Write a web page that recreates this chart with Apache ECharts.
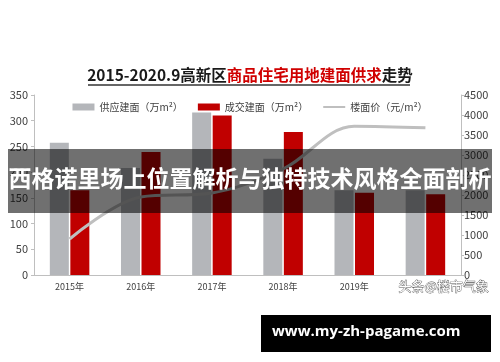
<!DOCTYPE html>
<html>
<head>
<meta charset="utf-8">
<script src="https://cdn.jsdelivr.net/npm/echarts@6/dist/echarts.min.js"></script>
<style>html,body{margin:0;padding:0;background:#fff}#c{width:500px;height:362px}</style>
</head>
<body>
<div id="c"></div>
<script>
var categories = ['2015年', '2016年', '2017年', '2018年', '2019年', '2020年'];
var supplyArea = [257, 208, 316, 226, 165, 165];
var dealArea = [165, 239, 310, 278, 160, 157];
var floorPrice = [900, 1950, 2050, 2650, 3720, 3680];
var leftTicks = [0, 350, 50];
var rightTicks = [0, 4500, 500];
var seriesNames = ['供应建面（万m²）', '成交建面（万m²）', '楼面价（元/m²）'];

var FONT = '"Noto Sans CJK SC", "Noto Sans", sans-serif';
var chart = echarts.init(document.getElementById('c'));
chart.setOption({
  backgroundColor: '#fff',
  animation: false,
  textStyle: { fontFamily: FONT },
  grid: { left: 34, right: 39, top: 95, bottom: 87 },
  legend: {
    left: 'center', top: 97,
    itemWidth: 22, itemHeight: 7, itemGap: 15,
    textStyle: { fontSize: 10, color: '#404040', fontFamily: FONT },
    data: [
      { name: seriesNames[0], icon: 'rect' },
      { name: seriesNames[1], icon: 'rect' },
      { name: seriesNames[2], icon: 'path://M0,0 L22,0 L22,2 L0,2 Z' }
    ]
  },
  xAxis: {
    type: 'category', data: categories,
    axisLine: { lineStyle: { color: '#bfbfbf', width: 1 } },
    axisTick: { show: false },
    axisLabel: {
      fontSize: 9, color: '#404040', margin: 7,
      interval: function (i) { return i < categories.length - 1; }
    }
  },
  yAxis: [
    {
      type: 'value', min: leftTicks[0], max: leftTicks[1], interval: leftTicks[2],
      axisLine: { show: true, lineStyle: { color: '#bfbfbf' } },
      axisTick: { show: true, length: 3, lineStyle: { color: '#bfbfbf' } },
      axisLabel: { fontSize: 11, color: '#404040', margin: 6 },
      splitLine: { show: false }
    },
    {
      type: 'value', min: rightTicks[0], max: rightTicks[1], interval: rightTicks[2],
      axisLine: { show: true, lineStyle: { color: '#bfbfbf' } },
      axisTick: { show: true, length: 3, lineStyle: { color: '#bfbfbf' } },
      axisLabel: { fontSize: 11, color: '#404040', margin: 3, formatter: function (v) { return String(v); } },
      splitLine: { show: false }
    }
  ],
  series: [
    { name: seriesNames[0], type: 'bar', data: supplyArea, barWidth: 19, barGap: '8%',
      itemStyle: { color: '#b4b6ba' } },
    { name: seriesNames[1], type: 'bar', data: dealArea, barWidth: 19,
      itemStyle: { color: '#c00000' } },
    { name: seriesNames[2], type: 'line', yAxisIndex: 1, data: floorPrice, smooth: 0.35,
      showSymbol: false, symbol: 'none',
      lineStyle: { color: '#bfbfbf', width: 3 }, itemStyle: { color: '#bfbfbf' } }
  ],
  graphic: [
    { type: 'text', left: 'center', top: 67, z: 100,
      style: {
        text: '{a|2015-2020.9高新区}{b|商品住宅用地建面供求}{a|走势}',
        rich: {
          a: { fill: '#1a1a1a', fontSize: 15.5, fontWeight: 'bold', fontFamily: FONT },
          b: { fill: '#d00000', fontSize: 15.5, fontWeight: 'bold', fontFamily: FONT }
        }
      } },
    { type: 'line', z: 100, shape: { x1: 88, y1: 85, x2: 410, y2: 85 },
      style: { stroke: '#333', lineWidth: 1.5 } },
    { type: 'text', z: 100, left: 398, top: 279,
      style: { text: '头条@楼市气象', fontSize: 13, fill: '#ffffff', stroke: '#555', lineWidth: 0.8, fontFamily: FONT } },
    { type: 'rect', z: 100, shape: { x: 8, y: 149, width: 484, height: 64 },
      style: { fill: 'rgba(0,0,0,0.56)' } },
    { type: 'text', z: 101, left: 'center', top: 167,
      style: { text: '西格诺里场上位置解析与独特技术风格全面剖析', fontSize: 23, fontWeight: 'bold', fill: '#fff', fontFamily: FONT } },
    { type: 'rect', z: 100, shape: { x: 261, y: 315, width: 230, height: 37 },
      style: { fill: '#000' } },
    { type: 'text', z: 101, left: 272, top: 324,
      style: { text: 'www.my-zh-pagame.com', fontSize: 15, fontWeight: 'bold', fill: '#fff', fontFamily: '"Open Sans", "DejaVu Sans", sans-serif' } }
  ]
});
</script>
</body>
</html>
